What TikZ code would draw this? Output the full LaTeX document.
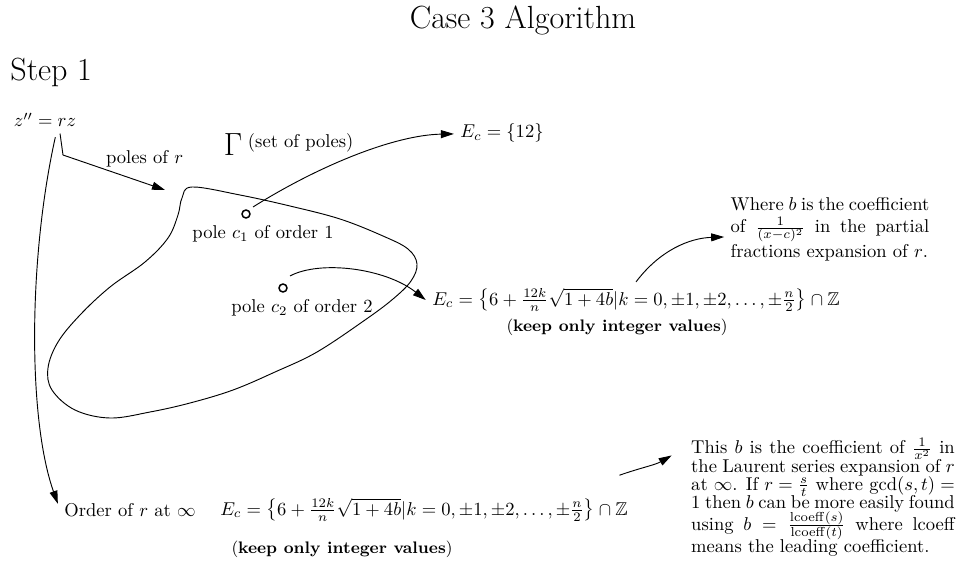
\documentclass[tikz,border=0pt]{standalone}
\usepackage{amsmath,amssymb}
\usepackage{tikz}
\usetikzlibrary{positioning, arrows.meta}

\begin{document}
\begin{tikzpicture}[
    x=0.018935cm, y=-0.018935cm,
    heading/.style={font=\LARGE, inner sep=0pt},
    pole/.style={circle, draw, line width=0.8pt, minimum size=4.3pt, inner sep=0pt},
    note/.style={align=justify, text width=#1},
    tight/.style={font={\fontsize{10pt}{9.8pt}\selectfont\lineskiplimit=-0.5pt\lineskip=-0.5pt}},
    keep/.style={font=\small},
    arr/.style={-{Triangle[length=7pt,width=4.3pt]}, line width=0.5pt},
    curve/.style={line width=0.5pt},
]
\useasboundingbox (0,0) rectangle (957,584);

% ---------- headings ----------
\node[heading] (title) at (523,20) {Case 3 Algorithm};
\node[heading, anchor=west] (step1) at (10,72) {Step 1};

% ---------- equation and set of poles ----------
\node (zrz) at (45,120) {$z''=rz$};
\node[inner sep=0pt] (gam) at (233,145) {\LARGE$\Gamma$};
\node[inner sep=0pt, right=2.7pt of gam, yshift=1pt] (setp) {(set of poles)};

% the region holding the poles
\draw[curve] plot[smooth cycle, tension=0.6] coordinates {
    (192,187) (240,195) (290,206) (340,219) (383,236) (408,249) (417,264)
    (411,281) (393,299) (365,320) (317,352) (275,372) (233,390) (190,403)
    (150,412) (110,418) (75,410) (52,390) (48,368) (58,342) (80,315)
    (110,287) (145,262) (168,238) (178,215) (182,198)};

\node[pole] (c1) at (246,214) {};
\node[pole] (c2) at (283,288) {};
\node[below=0pt of c1, xshift=9.2pt] (c1lbl) {pole $c_1$ of order 1};
\node[below=0pt of c2, xshift=10.2pt] (c2lbl) {pole $c_2$ of order 2};

% ---------- exponent sets ----------
\node (ec12) at (502,133) {$E_c=\{12\}$};
\node (ecmid) at (636,300) {$E_c=\left\{6+\frac{12k}{n}\sqrt{1+4b}|k=0,\pm1,\pm2,\dots,\pm\frac{n}{2}\right\}\cap\mathbb{Z}$};
\node[keep] (keepmid) at (617,327) {(\textbf{keep only integer values})};
\node[note=107pt] (bnote) at (830,229) {Where $b$ is the coefficient of $\frac{1}{(x-c)^2}$ in the partial fractions expansion of $r$.};

% ---------- infinity ----------
\node (ordinf) at (130,510) {Order of $r$ at $\infty$};
\node (ecinf) at (424,510) {$E_c=\left\{6+\frac{12k}{n}\sqrt{1+4b}|k=0,\pm1,\pm2,\dots,\pm\frac{n}{2}\right\}\cap\mathbb{Z}$};
\node[keep] (keepinf) at (342,549) {(\textbf{keep only integer values})};
\node[note=142pt, tight] (lnote) at (823,497) {This $b$ is the coefficient of $\frac{1}{x^2}$ in the Laurent series expansion of $r$ at $\infty$. If $r=\frac{s}{t}$ where $\gcd(s,t)=1$ then $b$ can be more easily found using $b=\frac{\mathrm{lcoeff}(s)}{\mathrm{lcoeff}(t)}$ where lcoeff means the leading coefficient.};

% ---------- connectors ----------
\coordinate (fork) at (63,155);
\coordinate (gamtip) at (165,190);
\draw[arr] ([xshift=8.1pt]zrz.south) -- (fork) -- node[pos=0.4, anchor=south west, inner sep=1pt] {poles of $r$} (gamtip);
\draw[arr, shorten <=2pt] ([xshift=6pt]zrz.south) .. controls (28,260) and (28,420) .. ([yshift=-3.8pt]ordinf.north west);

\draw[arr] ([xshift=3.8pt,yshift=3.8pt]c1.center) .. controls (320,165) and (395,135) .. (ec12);
\draw[arr] ([xshift=3.8pt,yshift=6.5pt]c2.center) .. controls (320,260) and (385,268) .. (ecmid.west);
\draw[arr] (ecmid.north) .. controls (660,250) and (690,238) .. ([yshift=-4.3pt]bnote.west);
\draw[arr] ([xshift=-8pt,yshift=9pt]ecinf.north east) .. controls (640,468) and (655,465) .. ([xshift=-7pt,yshift=-13pt]lnote.north west);

\end{tikzpicture}
\end{document}
